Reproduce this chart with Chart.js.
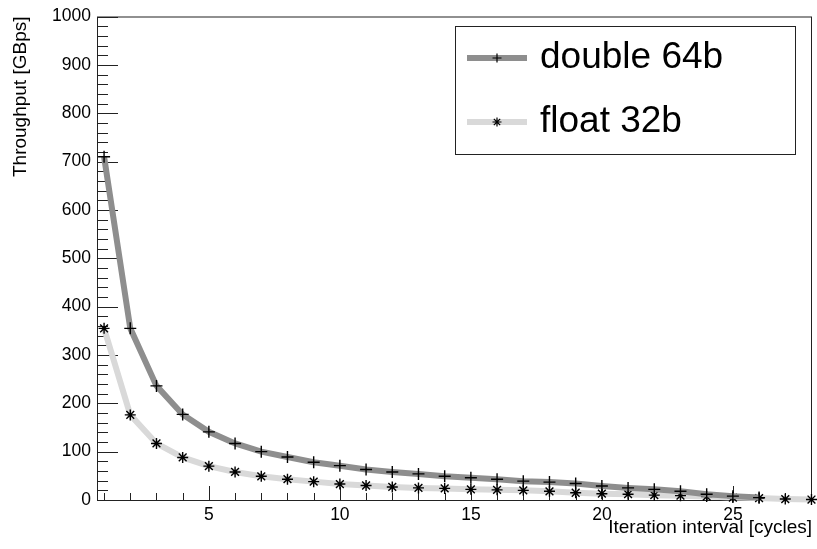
<!DOCTYPE html>
<html>
<head>
<meta charset="utf-8">
<script src="https://cdn.jsdelivr.net/npm/chart.js@4.4.1/dist/chart.umd.min.js"></script>
<style>
  html, body { margin: 0; padding: 0; background: #fff; }
  #wrap { width: 817px; height: 549px; }
</style>
</head>
<body>
<div id="wrap"><canvas id="throughputChart" width="817" height="549"></canvas></div>
<script>
// values
const iterations = [1, 2, 3, 4, 5, 6, 7, 8, 9, 10, 11, 12, 13, 14, 15, 16, 17, 18, 19, 20, 21, 22, 23, 24, 25, 26, 27, 28];
const doubleThroughput = [710, 355, 236, 177, 141, 117, 100, 89, 78, 71, 63, 58, 54, 49, 46, 43, 39, 37, 34, 29, 25, 22, 18, 12, 8, 5];
const floatThroughput = [355, 176, 117, 88, 70, 58, 49, 43, 38, 33, 30, 27, 25, 24, 22, 21, 20, 18, 15, 13, 12, 10, 9, 7, 5, 4, 2, 1];
const seriesNames = ['double 64b', 'float 32b'];
const xTickValues = [5, 10, 15, 20, 25];
const yTickValues = [0, 100, 200, 300, 400, 500, 600, 700, 800, 900, 1000];

const FONT = '"Liberation Sans", Arial, Helvetica, sans-serif';

const toPoints = (vals) => vals.map((v, i) => ({ x: iterations[i], y: v }));

// ROOT style frame with ticks on the inside
const frameTicks = {
  id: 'frameTicks',
  beforeDatasetsDraw(chart) {
    const { ctx, chartArea: a, scales: { x, y } } = chart;
    ctx.save();
    ctx.strokeStyle = '#222';
    ctx.lineWidth = 1;
    ctx.strokeRect(a.left + 0.5, a.top + 0.5, a.right - a.left - 1, a.bottom - a.top);

    ctx.beginPath();
    for (let v = y.min; v <= y.max; v += 20) {
      const py = Math.round(y.getPixelForValue(v)) + 0.5;
      const len = v % 100 === 0 ? 21 : 11;
      ctx.moveTo(a.left, py);
      ctx.lineTo(a.left + len, py);
    }
    for (let v = Math.ceil(x.min); v <= x.max; v++) {
      const px = Math.round(x.getPixelForValue(v)) + 0.5;
      const len = v % 5 === 0 ? 14 : 7;
      ctx.moveTo(px, a.bottom);
      ctx.lineTo(px, a.bottom - len);
    }
    ctx.stroke();
    ctx.restore();
  }
};

// legend box in the top right corner
const boxLegend = {
  id: 'boxLegend',
  afterDraw(chart) {
    const ctx = chart.ctx;
    ctx.save();
    ctx.strokeStyle = '#222';
    ctx.lineWidth = 1;
    ctx.strokeRect(455.5, 26.5, 340, 128);
    const rows = [58, 122];
    chart.data.datasets.forEach((ds, i) => {
      const yy = rows[i];
      ctx.strokeStyle = ds.borderColor;
      ctx.lineWidth = ds.borderWidth;
      ctx.beginPath();
      ctx.moveTo(467, yy);
      ctx.lineTo(527, yy);
      ctx.stroke();
      ctx.strokeStyle = '#000';
      ctx.fillStyle = '#000';
      ctx.lineWidth = 1.2;
      Chart.helpers.drawPoint(ctx, {
        pointStyle: ds.pointStyle, radius: 4.5, borderWidth: 1.2, rotation: 0
      }, 497, yy);
      ctx.font = '37px ' + FONT;
      ctx.textBaseline = 'middle';
      ctx.textAlign = 'left';
      ctx.fillText(ds.label, 540, yy);
    });
    ctx.restore();
  }
};

new Chart(document.getElementById('throughputChart'), {
  type: 'line',
  data: {
    datasets: [
      {
        label: seriesNames[0],
        data: toPoints(doubleThroughput),
        borderColor: '#8e8e8e',
        borderWidth: 6,
        pointStyle: 'cross',
        pointRadius: 6,
        pointBorderColor: '#000',
        pointBackgroundColor: '#000',
        pointBorderWidth: 1.4,
        tension: 0,
        clip: false
      },
      {
        label: seriesNames[1],
        data: toPoints(floatThroughput),
        borderColor: '#d9d9d9',
        borderWidth: 6,
        pointStyle: 'star',
        pointRadius: 5.5,
        pointBorderColor: '#000',
        pointBackgroundColor: '#000',
        pointBorderWidth: 1.4,
        tension: 0,
        clip: false
      }
    ]
  },
  options: {
    responsive: false,
    animation: false,
    devicePixelRatio: 1,
    layout: { autoPadding: false, padding: { left: 0, top: 15, right: 5, bottom: 0 } },
    plugins: {
      legend: { display: false },
      tooltip: { enabled: false }
    },
    scales: {
      x: {
        type: 'linear',
        min: 0.73,
        max: 28.02,
        afterFit: (s) => { s.height = 49; },
        afterBuildTicks: (s) => { s.ticks = xTickValues.map(v => ({ value: v })); },
        grid: { display: false, drawTicks: false },
        border: { display: false },
        ticks: { color: '#000', padding: 5, maxRotation: 0, font: { family: FONT, size: 17.5 } },
        title: {
          display: true,
          text: 'Iteration interval [cycles]',
          align: 'end',
          color: '#000',
          font: { family: FONT, size: 19 },
          padding: { top: 0, bottom: 10 }
        }
      },
      y: {
        type: 'linear',
        min: 0,
        max: 1000,
        afterFit: (s) => { s.width = 97; },
        afterBuildTicks: (s) => { s.ticks = yTickValues.map(v => ({ value: v })); },
        grid: { display: false, drawTicks: false },
        border: { display: false },
        ticks: {
          color: '#000',
          padding: 6,
          font: { family: FONT, size: 17.5 },
          callback: (v) => String(v)
        },
        title: {
          display: true,
          text: 'Throughput [GBps]',
          align: 'end',
          color: '#000',
          font: { family: FONT, size: 19 },
          padding: { top: 9, bottom: 0 }
        }
      }
    }
  },
  plugins: [frameTicks, boxLegend]
});
</script>
</body>
</html>
